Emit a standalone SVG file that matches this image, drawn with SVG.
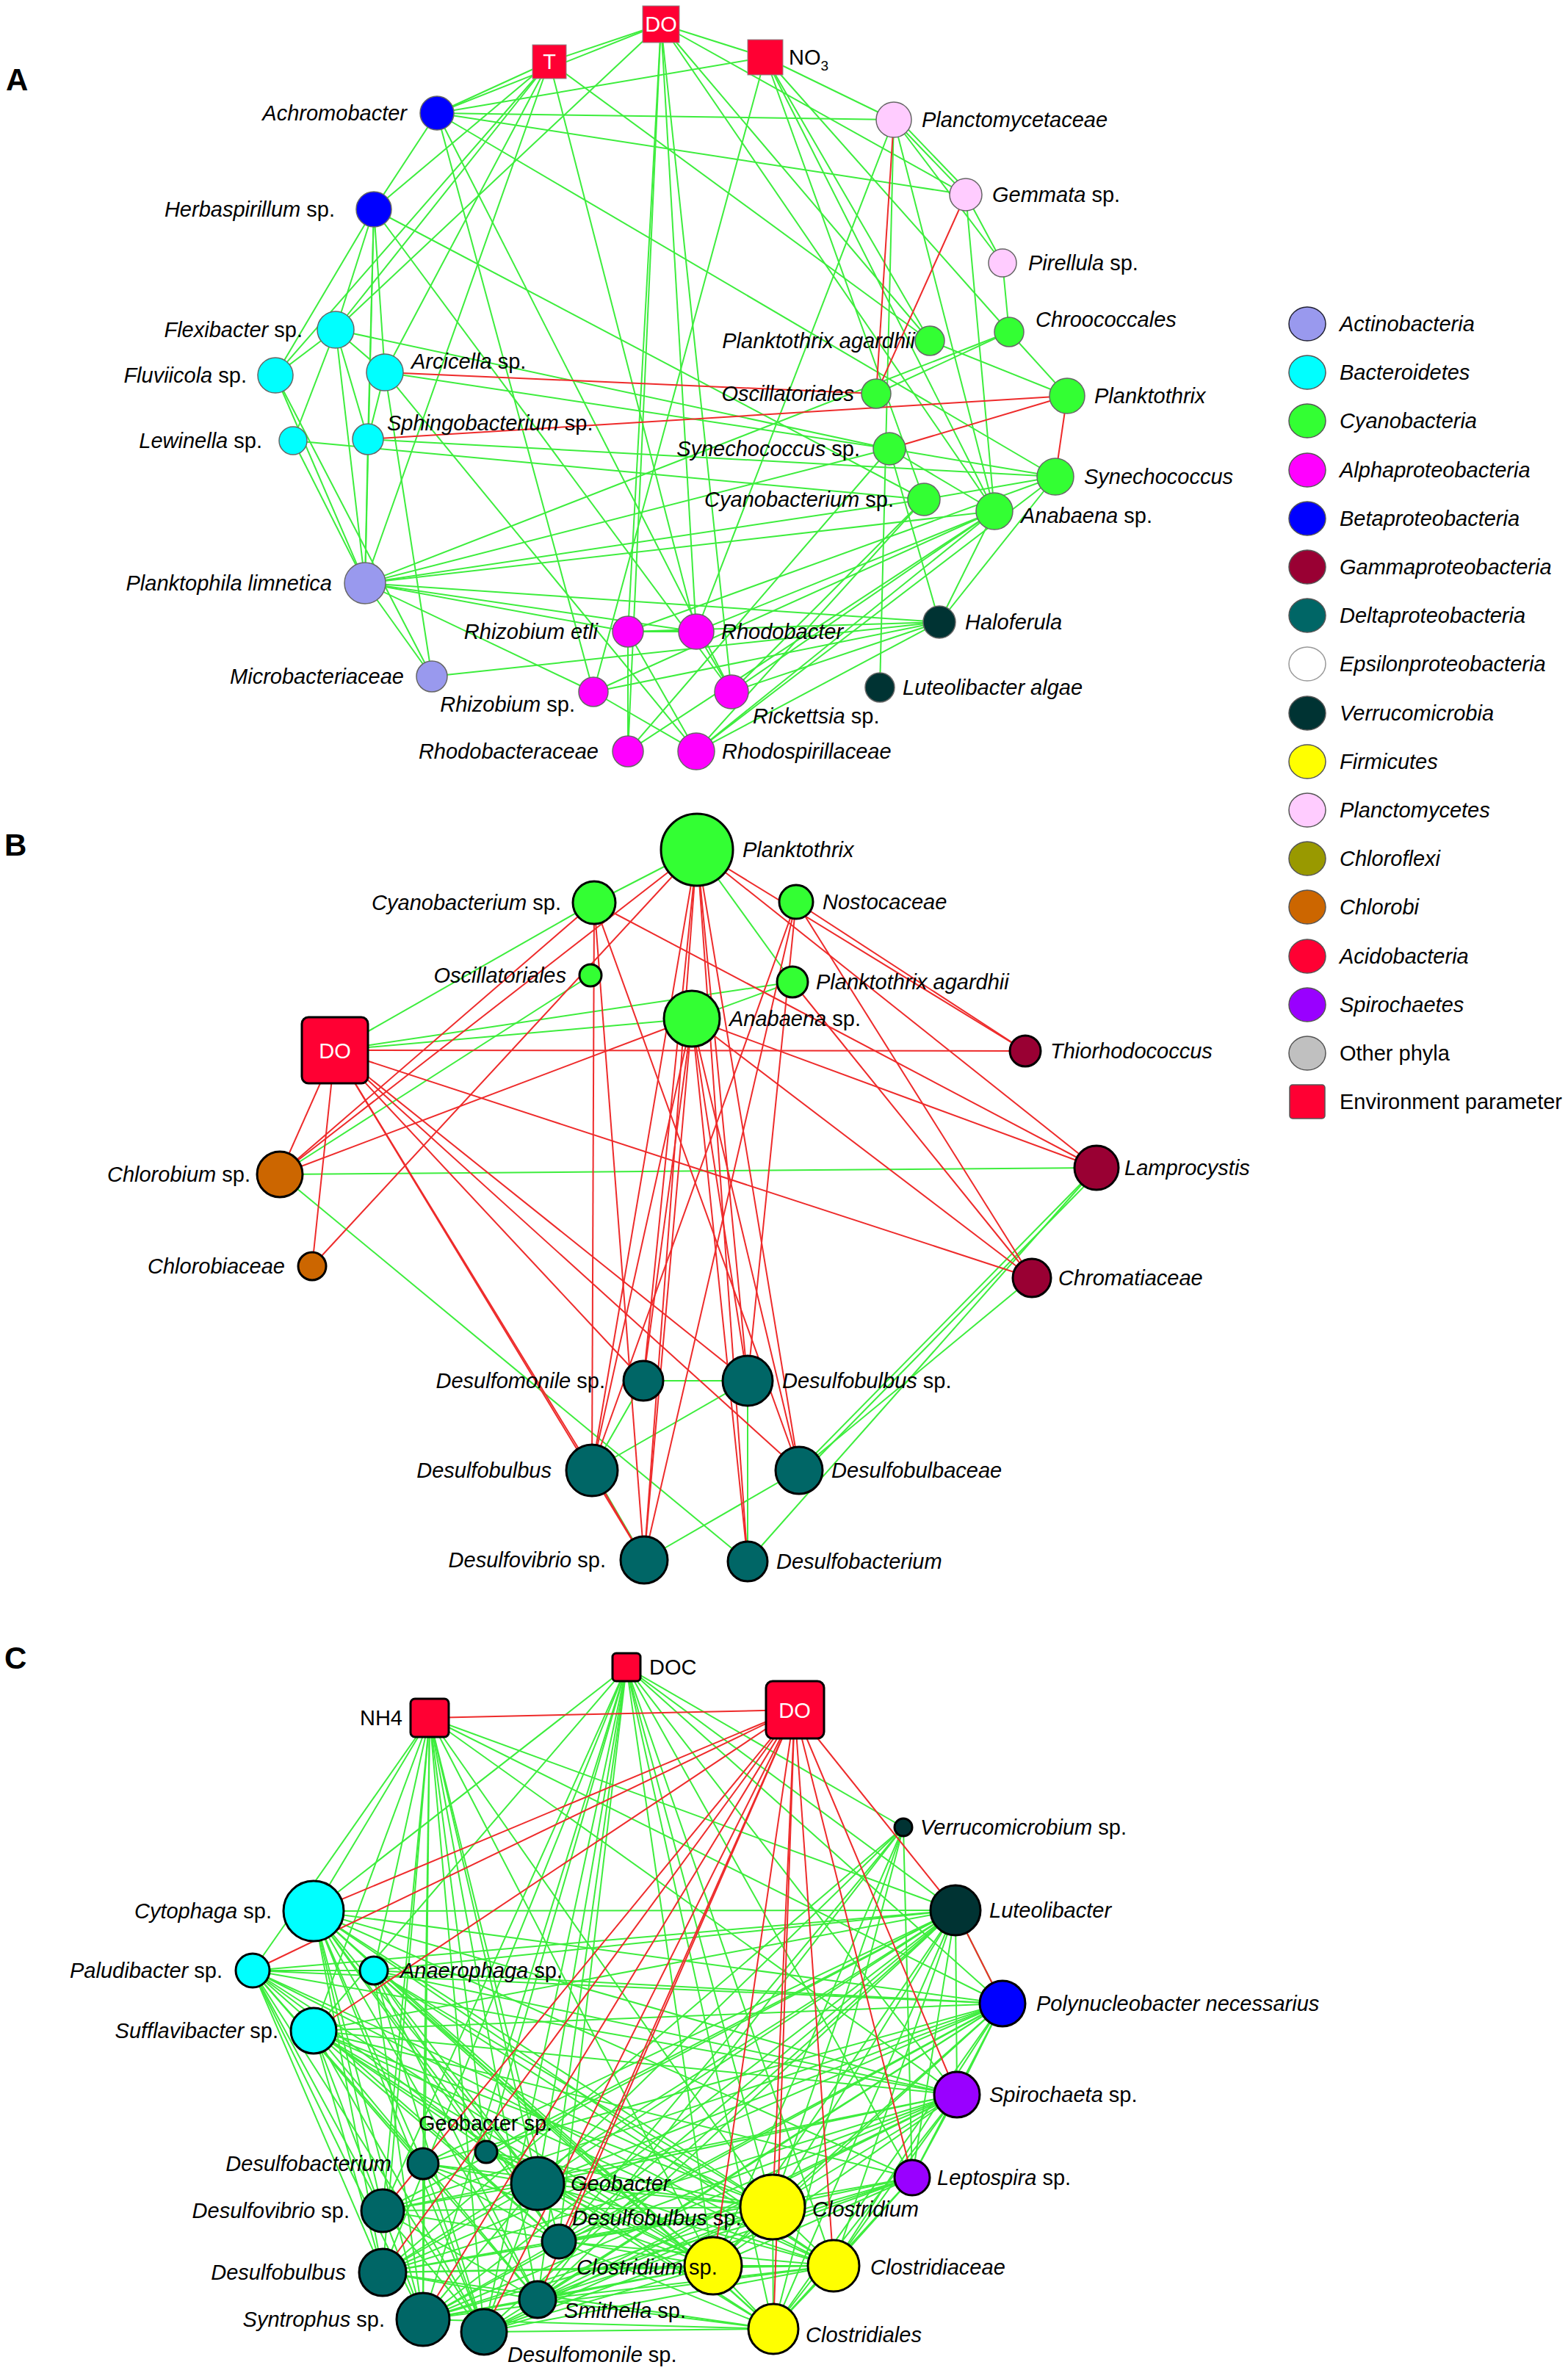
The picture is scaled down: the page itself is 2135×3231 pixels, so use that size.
<svg xmlns="http://www.w3.org/2000/svg" width="2135" height="3231" viewBox="0 0 2135 3231">
<style>
.g{stroke:#3ded3d;stroke-width:2;fill:none}
.r{stroke:#ee2b2b;stroke-width:2;fill:none}
.na circle{stroke:#666;stroke-width:1.5}
.nb circle{stroke:#000;stroke-width:3}
.envA{fill:#ff0033;stroke:#888;stroke-width:1}
.envB{fill:#ff0033;stroke:#000;stroke-width:3}
text{font-family:"Liberation Sans",Arial,sans-serif;font-size:29px;fill:#000}
.l{font-style:italic}
.n{font-style:normal}
.e{text-anchor:end}
.w{fill:#fff;text-anchor:middle}
.pl{font-weight:bold;font-size:42px}
.act{fill:#9999ee}.bac{fill:#00ffff}.cya{fill:#33ff33}.alp{fill:#ff00ff}.bet{fill:#0000ff}.gam{fill:#990033}.del{fill:#006666}.eps{fill:#ffffff}.ver{fill:#003333}.fir{fill:#ffff00}.pla{fill:#ffccff}.chf{fill:#999900}.chb{fill:#cc6600}.aci{fill:#ff0033}.spi{fill:#9900ff}.oth{fill:#c0c0c0}
</style>
<rect width="2135" height="3231" fill="#fff"/>
<text x="8" y="123" class="pl">A</text>
<text x="6" y="1165" class="pl">B</text>
<text x="6" y="2272" class="pl">C</text>

<g id="connectors">
<g id="edges-A">
<g class="g">
<line x1="748" y1="84" x2="595" y2="154"/><line x1="748" y1="84" x2="509" y2="285"/><line x1="748" y1="84" x2="457" y2="449"/><line x1="748" y1="84" x2="375" y2="511"/><line x1="748" y1="84" x2="524" y2="507"/><line x1="748" y1="84" x2="497" y2="794"/><line x1="748" y1="84" x2="948" y2="860"/><line x1="748" y1="84" x2="1266" y2="464"/><line x1="748" y1="84" x2="900" y2="33"/>
<line x1="900" y1="33" x2="1042" y2="78"/><line x1="900" y1="33" x2="595" y2="154"/><line x1="900" y1="33" x2="457" y2="449"/><line x1="900" y1="33" x2="855" y2="860"/><line x1="900" y1="33" x2="996" y2="942"/><line x1="900" y1="33" x2="855" y2="1023"/><line x1="900" y1="33" x2="948" y2="860"/><line x1="900" y1="33" x2="1266" y2="464"/><line x1="900" y1="33" x2="1315" y2="265"/><line x1="900" y1="33" x2="1354" y2="696"/>
<line x1="1042" y1="78" x2="595" y2="154"/><line x1="1042" y1="78" x2="1217" y2="163"/><line x1="1042" y1="78" x2="1266" y2="464"/><line x1="1042" y1="78" x2="1374" y2="452"/><line x1="1042" y1="78" x2="808" y2="942"/><line x1="1042" y1="78" x2="1354" y2="696"/><line x1="1042" y1="78" x2="1258" y2="680"/>
<line x1="595" y1="154" x2="1217" y2="163"/><line x1="595" y1="154" x2="1315" y2="265"/><line x1="595" y1="154" x2="509" y2="285"/><line x1="595" y1="154" x2="1437" y2="649"/><line x1="595" y1="154" x2="996" y2="942"/><line x1="595" y1="154" x2="808" y2="942"/>
<line x1="509" y1="285" x2="457" y2="449"/><line x1="509" y1="285" x2="375" y2="511"/><line x1="509" y1="285" x2="501" y2="598"/><line x1="509" y1="285" x2="524" y2="507"/><line x1="509" y1="285" x2="1258" y2="680"/><line x1="509" y1="285" x2="996" y2="942"/><line x1="509" y1="285" x2="497" y2="794"/>
<line x1="457" y1="449" x2="375" y2="511"/><line x1="457" y1="449" x2="524" y2="507"/><line x1="457" y1="449" x2="497" y2="794"/><line x1="457" y1="449" x2="501" y2="598"/><line x1="457" y1="449" x2="1211" y2="611"/>
<line x1="375" y1="511" x2="497" y2="794"/><line x1="375" y1="511" x2="588" y2="921"/>
<line x1="524" y1="507" x2="1211" y2="611"/><line x1="524" y1="507" x2="588" y2="921"/><line x1="524" y1="507" x2="948" y2="1023"/><line x1="524" y1="507" x2="501" y2="598"/>
<line x1="399" y1="600" x2="497" y2="794"/><line x1="399" y1="600" x2="1258" y2="680"/><line x1="399" y1="600" x2="457" y2="449"/>
<line x1="501" y1="598" x2="497" y2="794"/><line x1="501" y1="598" x2="1437" y2="649"/>
<line x1="497" y1="794" x2="588" y2="921"/><line x1="497" y1="794" x2="855" y2="860"/><line x1="497" y1="794" x2="808" y2="942"/><line x1="497" y1="794" x2="1279" y2="847"/><line x1="497" y1="794" x2="1258" y2="680"/><line x1="497" y1="794" x2="1211" y2="611"/><line x1="497" y1="794" x2="1354" y2="696"/><line x1="497" y1="794" x2="1374" y2="452"/><line x1="497" y1="794" x2="948" y2="860"/>
<line x1="588" y1="921" x2="1279" y2="847"/>
<line x1="855" y1="860" x2="948" y2="860"/><line x1="855" y1="860" x2="855" y2="1023"/><line x1="855" y1="860" x2="948" y2="1023"/><line x1="855" y1="860" x2="1437" y2="649"/><line x1="855" y1="860" x2="1279" y2="847"/>
<line x1="948" y1="860" x2="996" y2="942"/><line x1="948" y1="860" x2="1217" y2="163"/><line x1="948" y1="860" x2="1354" y2="696"/>
<line x1="808" y1="942" x2="948" y2="1023"/><line x1="808" y1="942" x2="1279" y2="847"/><line x1="808" y1="942" x2="1354" y2="696"/>
<line x1="996" y1="942" x2="1279" y2="847"/><line x1="996" y1="942" x2="1354" y2="696"/><line x1="996" y1="942" x2="1258" y2="680"/>
<line x1="855" y1="1023" x2="1354" y2="696"/><line x1="855" y1="1023" x2="1211" y2="611"/>
<line x1="948" y1="1023" x2="1354" y2="696"/><line x1="948" y1="1023" x2="1437" y2="649"/><line x1="948" y1="1023" x2="1258" y2="680"/><line x1="948" y1="1023" x2="1279" y2="847"/>
<line x1="1217" y1="163" x2="1315" y2="265"/><line x1="1221" y1="160" x2="1319" y2="262"/><line x1="1217" y1="163" x2="1198" y2="936"/><line x1="1217" y1="163" x2="1365" y2="358"/><line x1="1217" y1="163" x2="1354" y2="696"/>
<line x1="1315" y1="265" x2="1365" y2="358"/><line x1="1315" y1="265" x2="1354" y2="696"/>
<line x1="1365" y1="358" x2="1374" y2="452"/>
<line x1="1374" y1="452" x2="1193" y2="536"/><line x1="1374" y1="452" x2="1453" y2="539"/>
<line x1="1266" y1="464" x2="1453" y2="539"/>
<line x1="1211" y1="611" x2="1437" y2="649"/><line x1="1211" y1="611" x2="1354" y2="696"/><line x1="1211" y1="611" x2="1279" y2="847"/>
<line x1="1437" y1="649" x2="1279" y2="847"/><line x1="1258" y1="680" x2="1437" y2="649"/><line x1="1354" y1="696" x2="1279" y2="847"/>
</g>
<g class="r">
<line x1="524" y1="507" x2="1193" y2="536"/><line x1="501" y1="598" x2="1453" y2="539"/><line x1="1217" y1="163" x2="1193" y2="536"/><line x1="1315" y1="265" x2="1193" y2="536"/><line x1="1211" y1="611" x2="1453" y2="539"/><line x1="1453" y1="539" x2="1437" y2="649"/>
</g>
</g>

<g id="edges-B">
<g class="g">
<line x1="456" y1="1430" x2="809" y2="1229"/><line x1="456" y1="1430" x2="942" y2="1387"/><line x1="456" y1="1430" x2="1079" y2="1337"/>
<line x1="381" y1="1599" x2="804" y2="1328"/><line x1="381" y1="1599" x2="1493" y2="1590"/><line x1="381" y1="1599" x2="1018" y2="2126"/>
<line x1="876" y1="1880" x2="1018" y2="1880"/><line x1="806" y1="2002" x2="876" y2="1880"/><line x1="806" y1="2002" x2="1018" y2="1880"/><line x1="877" y1="2124" x2="1088" y2="2002"/><line x1="1018" y1="1880" x2="1018" y2="2126"/>
<line x1="1018" y1="2126" x2="1493" y2="1590"/><line x1="1088" y1="2002" x2="1493" y2="1590"/><line x1="1093" y1="2006" x2="1497" y2="1594"/><line x1="1088" y1="2002" x2="1405" y2="1740"/>
<line x1="949" y1="1157" x2="1079" y2="1337"/><line x1="942" y1="1387" x2="1079" y2="1337"/><line x1="949" y1="1157" x2="809" y2="1229"/><line x1="808" y1="2004" x2="879" y2="2126"/>
</g>
<g class="r">
<line x1="949" y1="1157" x2="381" y2="1599"/><line x1="809" y1="1229" x2="381" y2="1599"/><line x1="809" y1="1229" x2="1493" y2="1590"/><line x1="425" y1="1724" x2="949" y2="1157"/>
<line x1="456" y1="1430" x2="381" y2="1599"/><line x1="456" y1="1430" x2="425" y2="1724"/><line x1="456" y1="1430" x2="1396" y2="1431"/><line x1="456" y1="1430" x2="1405" y2="1740"/><line x1="456" y1="1430" x2="806" y2="2002"/><line x1="456" y1="1430" x2="877" y2="2124"/><line x1="456" y1="1430" x2="876" y2="1880"/><line x1="456" y1="1430" x2="1018" y2="1880"/><line x1="456" y1="1430" x2="1088" y2="2002"/>
<line x1="381" y1="1599" x2="942" y2="1387"/>
<line x1="949" y1="1157" x2="1396" y2="1431"/><line x1="949" y1="1157" x2="1493" y2="1590"/><line x1="1084" y1="1228" x2="1396" y2="1431"/><line x1="1079" y1="1337" x2="1405" y2="1740"/><line x1="1084" y1="1228" x2="1405" y2="1740"/><line x1="942" y1="1387" x2="1493" y2="1590"/><line x1="942" y1="1387" x2="1405" y2="1740"/>
<line x1="949" y1="1157" x2="876" y2="1880"/><line x1="949" y1="1157" x2="806" y2="2002"/><line x1="949" y1="1157" x2="877" y2="2124"/><line x1="949" y1="1157" x2="1018" y2="1880"/><line x1="949" y1="1157" x2="1088" y2="2002"/><line x1="949" y1="1157" x2="1018" y2="2126"/>
<line x1="942" y1="1387" x2="876" y2="1880"/><line x1="942" y1="1387" x2="806" y2="2002"/><line x1="942" y1="1387" x2="877" y2="2124"/><line x1="942" y1="1387" x2="1018" y2="1880"/><line x1="942" y1="1387" x2="1088" y2="2002"/><line x1="942" y1="1387" x2="1018" y2="2126"/>
<line x1="809" y1="1229" x2="806" y2="2002"/><line x1="809" y1="1229" x2="877" y2="2124"/><line x1="809" y1="1229" x2="1088" y2="2002"/>
<line x1="1084" y1="1228" x2="806" y2="2002"/><line x1="1084" y1="1228" x2="877" y2="2124"/><line x1="1084" y1="1228" x2="1018" y2="1880"/>
<line x1="806" y1="2002" x2="877" y2="2124"/>
</g>
</g>

<g id="edges-C">
<g class="g">
<line x1="585" y1="2339" x2="427" y2="2602"/><line x1="585" y1="2339" x2="344" y2="2683"/><line x1="585" y1="2339" x2="427" y2="2765"/><line x1="585" y1="2339" x2="576" y2="2946"/><line x1="585" y1="2339" x2="521" y2="3010"/><line x1="585" y1="2339" x2="521" y2="3094"/><line x1="585" y1="2339" x2="576" y2="3158"/><line x1="585" y1="2339" x2="659" y2="3175"/><line x1="585" y1="2339" x2="662" y2="2930"/><line x1="585" y1="2339" x2="732" y2="2973"/><line x1="585" y1="2339" x2="732" y2="3131"/><line x1="585" y1="2339" x2="761" y2="3052"/><line x1="585" y1="2339" x2="971" y2="3085"/><line x1="585" y1="2339" x2="1052" y2="3005"/><line x1="585" y1="2339" x2="1303" y2="2852"/><line x1="585" y1="2339" x2="1301" y2="2601"/><line x1="585" y1="2339" x2="1365" y2="2728"/><line x1="585" y1="2339" x2="509" y2="2683"/>
<line x1="853" y1="2270" x2="427" y2="2602"/><line x1="853" y1="2270" x2="427" y2="2765"/><line x1="853" y1="2270" x2="732" y2="2973"/><line x1="853" y1="2270" x2="662" y2="2930"/><line x1="853" y1="2270" x2="761" y2="3052"/><line x1="853" y1="2270" x2="732" y2="3131"/><line x1="853" y1="2270" x2="659" y2="3175"/><line x1="853" y1="2270" x2="576" y2="3158"/><line x1="853" y1="2270" x2="971" y2="3085"/><line x1="853" y1="2270" x2="1052" y2="3005"/><line x1="853" y1="2270" x2="1053" y2="3171"/><line x1="853" y1="2270" x2="1135" y2="3085"/><line x1="853" y1="2270" x2="1242" y2="2965"/><line x1="853" y1="2270" x2="1303" y2="2852"/><line x1="853" y1="2270" x2="1365" y2="2728"/><line x1="853" y1="2270" x2="1301" y2="2601"/><line x1="853" y1="2270" x2="521" y2="3094"/><line x1="853" y1="2270" x2="521" y2="3010"/><line x1="853" y1="2270" x2="1230" y2="2488"/>
<line x1="427" y1="2602" x2="1301" y2="2601"/><line x1="427" y1="2602" x2="1365" y2="2728"/><line x1="427" y1="2602" x2="1303" y2="2852"/><line x1="427" y1="2602" x2="1242" y2="2965"/><line x1="427" y1="2602" x2="1052" y2="3005"/><line x1="427" y1="2602" x2="971" y2="3085"/><line x1="427" y1="2602" x2="1135" y2="3085"/><line x1="427" y1="2602" x2="1053" y2="3171"/><line x1="427" y1="2602" x2="732" y2="2973"/><line x1="427" y1="2602" x2="662" y2="2930"/><line x1="427" y1="2602" x2="576" y2="2946"/><line x1="427" y1="2602" x2="521" y2="3010"/><line x1="427" y1="2602" x2="521" y2="3094"/><line x1="427" y1="2602" x2="576" y2="3158"/><line x1="427" y1="2602" x2="659" y2="3175"/><line x1="427" y1="2602" x2="732" y2="3131"/><line x1="427" y1="2602" x2="761" y2="3052"/>
<line x1="344" y1="2683" x2="1301" y2="2601"/><line x1="344" y1="2683" x2="1365" y2="2728"/><line x1="344" y1="2683" x2="1303" y2="2852"/><line x1="344" y1="2683" x2="1052" y2="3005"/><line x1="344" y1="2683" x2="971" y2="3085"/><line x1="344" y1="2683" x2="732" y2="2973"/><line x1="344" y1="2683" x2="576" y2="2946"/><line x1="344" y1="2683" x2="521" y2="3010"/><line x1="344" y1="2683" x2="521" y2="3094"/><line x1="344" y1="2683" x2="576" y2="3158"/><line x1="344" y1="2683" x2="659" y2="3175"/><line x1="344" y1="2683" x2="732" y2="3131"/><line x1="344" y1="2683" x2="761" y2="3052"/><line x1="344" y1="2683" x2="1135" y2="3085"/><line x1="344" y1="2683" x2="509" y2="2683"/>
<line x1="509" y1="2683" x2="1301" y2="2601"/><line x1="509" y1="2683" x2="1365" y2="2728"/><line x1="509" y1="2683" x2="1303" y2="2852"/><line x1="509" y1="2683" x2="1052" y2="3005"/><line x1="509" y1="2683" x2="971" y2="3085"/><line x1="509" y1="2683" x2="732" y2="2973"/><line x1="509" y1="2683" x2="761" y2="3052"/><line x1="509" y1="2683" x2="732" y2="3131"/><line x1="509" y1="2683" x2="659" y2="3175"/><line x1="509" y1="2683" x2="576" y2="3158"/><line x1="509" y1="2683" x2="1135" y2="3085"/><line x1="509" y1="2683" x2="1053" y2="3171"/>
<line x1="427" y1="2765" x2="1301" y2="2601"/><line x1="427" y1="2765" x2="1365" y2="2728"/><line x1="427" y1="2765" x2="1303" y2="2852"/><line x1="427" y1="2765" x2="1242" y2="2965"/><line x1="427" y1="2765" x2="1052" y2="3005"/><line x1="427" y1="2765" x2="971" y2="3085"/><line x1="427" y1="2765" x2="1135" y2="3085"/><line x1="427" y1="2765" x2="1053" y2="3171"/><line x1="427" y1="2765" x2="732" y2="2973"/><line x1="427" y1="2765" x2="761" y2="3052"/><line x1="427" y1="2765" x2="732" y2="3131"/><line x1="427" y1="2765" x2="659" y2="3175"/><line x1="427" y1="2765" x2="576" y2="3158"/><line x1="427" y1="2765" x2="521" y2="3094"/>
<line x1="1230" y1="2488" x2="732" y2="2973"/><line x1="1230" y1="2488" x2="971" y2="3085"/><line x1="1230" y1="2488" x2="1052" y2="3005"/><line x1="1230" y1="2488" x2="761" y2="3052"/><line x1="1230" y1="2488" x2="732" y2="3131"/><line x1="1230" y1="2488" x2="1242" y2="2965"/><line x1="1230" y1="2488" x2="1053" y2="3171"/><line x1="1230" y1="2488" x2="521" y2="3094"/>
<line x1="1301" y1="2601" x2="732" y2="2973"/><line x1="1301" y1="2601" x2="761" y2="3052"/><line x1="1301" y1="2601" x2="971" y2="3085"/><line x1="1301" y1="2601" x2="1052" y2="3005"/><line x1="1301" y1="2601" x2="1135" y2="3085"/><line x1="1301" y1="2601" x2="1053" y2="3171"/><line x1="1301" y1="2601" x2="732" y2="3131"/><line x1="1301" y1="2601" x2="659" y2="3175"/><line x1="1301" y1="2601" x2="576" y2="3158"/><line x1="1301" y1="2601" x2="521" y2="3094"/><line x1="1301" y1="2601" x2="521" y2="3010"/><line x1="1301" y1="2601" x2="576" y2="2946"/><line x1="1301" y1="2601" x2="662" y2="2930"/><line x1="1301" y1="2601" x2="1303" y2="2852"/><line x1="1301" y1="2601" x2="1242" y2="2965"/><line x1="1301" y1="2601" x2="1365" y2="2728"/>
<line x1="1365" y1="2728" x2="732" y2="2973"/><line x1="1365" y1="2728" x2="761" y2="3052"/><line x1="1365" y1="2728" x2="971" y2="3085"/><line x1="1365" y1="2728" x2="1052" y2="3005"/><line x1="1365" y1="2728" x2="1135" y2="3085"/><line x1="1365" y1="2728" x2="1053" y2="3171"/><line x1="1365" y1="2728" x2="732" y2="3131"/><line x1="1365" y1="2728" x2="659" y2="3175"/><line x1="1365" y1="2728" x2="576" y2="3158"/><line x1="1365" y1="2728" x2="521" y2="3094"/><line x1="1365" y1="2728" x2="521" y2="3010"/><line x1="1365" y1="2728" x2="576" y2="2946"/><line x1="1365" y1="2728" x2="1303" y2="2852"/><line x1="1365" y1="2728" x2="1242" y2="2965"/>
<line x1="1303" y1="2852" x2="732" y2="2973"/><line x1="1303" y1="2852" x2="761" y2="3052"/><line x1="1303" y1="2852" x2="971" y2="3085"/><line x1="1303" y1="2852" x2="1052" y2="3005"/><line x1="1303" y1="2852" x2="1135" y2="3085"/><line x1="1303" y1="2852" x2="1053" y2="3171"/><line x1="1303" y1="2852" x2="732" y2="3131"/><line x1="1303" y1="2852" x2="659" y2="3175"/><line x1="1303" y1="2852" x2="576" y2="3158"/><line x1="1303" y1="2852" x2="521" y2="3094"/><line x1="1303" y1="2852" x2="521" y2="3010"/><line x1="1303" y1="2852" x2="1242" y2="2965"/>
<line x1="1242" y1="2965" x2="971" y2="3085"/><line x1="1242" y1="2965" x2="1052" y2="3005"/><line x1="1242" y1="2965" x2="1135" y2="3085"/><line x1="1242" y1="2965" x2="1053" y2="3171"/><line x1="1242" y1="2965" x2="732" y2="3131"/><line x1="1242" y1="2965" x2="659" y2="3175"/><line x1="1242" y1="2965" x2="576" y2="3158"/><line x1="1242" y1="2965" x2="521" y2="3094"/>
<line x1="576" y1="2946" x2="732" y2="2973"/><line x1="576" y1="2946" x2="761" y2="3052"/><line x1="576" y1="2946" x2="576" y2="3158"/><line x1="576" y1="2946" x2="659" y2="3175"/><line x1="576" y1="2946" x2="1052" y2="3005"/><line x1="576" y1="2946" x2="971" y2="3085"/>
<line x1="521" y1="3010" x2="732" y2="2973"/><line x1="521" y1="3010" x2="732" y2="3131"/><line x1="521" y1="3010" x2="659" y2="3175"/><line x1="521" y1="3010" x2="971" y2="3085"/><line x1="521" y1="3010" x2="1052" y2="3005"/>
<line x1="521" y1="3094" x2="732" y2="2973"/><line x1="521" y1="3094" x2="732" y2="3131"/><line x1="521" y1="3094" x2="971" y2="3085"/><line x1="521" y1="3094" x2="1052" y2="3005"/><line x1="521" y1="3094" x2="1053" y2="3171"/><line x1="521" y1="3094" x2="1135" y2="3085"/>
<line x1="576" y1="3158" x2="732" y2="3131"/><line x1="576" y1="3158" x2="971" y2="3085"/><line x1="576" y1="3158" x2="1052" y2="3005"/><line x1="576" y1="3158" x2="1053" y2="3171"/><line x1="576" y1="3158" x2="1135" y2="3085"/><line x1="576" y1="3158" x2="761" y2="3052"/><line x1="576" y1="3158" x2="732" y2="2973"/>
<line x1="659" y1="3175" x2="971" y2="3085"/><line x1="659" y1="3175" x2="1052" y2="3005"/><line x1="659" y1="3175" x2="1053" y2="3171"/><line x1="659" y1="3175" x2="1135" y2="3085"/><line x1="659" y1="3175" x2="732" y2="2973"/>
<line x1="732" y1="2973" x2="971" y2="3085"/><line x1="732" y1="2973" x2="1052" y2="3005"/><line x1="732" y1="2973" x2="1135" y2="3085"/><line x1="732" y1="2973" x2="1053" y2="3171"/>
<line x1="732" y1="3131" x2="971" y2="3085"/><line x1="732" y1="3131" x2="1052" y2="3005"/><line x1="732" y1="3131" x2="1135" y2="3085"/><line x1="732" y1="3131" x2="1053" y2="3171"/>
<line x1="761" y1="3052" x2="1052" y2="3005"/><line x1="761" y1="3052" x2="1135" y2="3085"/><line x1="761" y1="3052" x2="1053" y2="3171"/>
<line x1="971" y1="3085" x2="1052" y2="3005"/><line x1="971" y1="3085" x2="1135" y2="3085"/><line x1="971" y1="3085" x2="1053" y2="3171"/><line x1="1052" y1="3005" x2="1135" y2="3085"/><line x1="1052" y1="3005" x2="1053" y2="3171"/><line x1="1135" y1="3085" x2="1053" y2="3171"/>
<line x1="662" y1="2930" x2="1052" y2="3005"/><line x1="662" y1="2930" x2="971" y2="3085"/><line x1="662" y1="2930" x2="1135" y2="3085"/>
</g>
<g class="r">
<line x1="585" y1="2339" x2="1082" y2="2328"/>
<line x1="1082" y1="2328" x2="427" y2="2602"/><line x1="1082" y1="2328" x2="344" y2="2683"/><line x1="1082" y1="2328" x2="427" y2="2765"/><line x1="1082" y1="2328" x2="521" y2="3010"/><line x1="1082" y1="2328" x2="521" y2="3094"/><line x1="1082" y1="2328" x2="576" y2="3158"/><line x1="1082" y1="2328" x2="659" y2="3175"/><line x1="1082" y1="2328" x2="732" y2="3131"/><line x1="1082" y1="2328" x2="761" y2="3052"/><line x1="1082" y1="2328" x2="971" y2="3085"/><line x1="1082" y1="2328" x2="1052" y2="3005"/><line x1="1082" y1="2328" x2="1053" y2="3171"/><line x1="1082" y1="2328" x2="1135" y2="3085"/><line x1="1082" y1="2328" x2="1242" y2="2965"/><line x1="1082" y1="2328" x2="1303" y2="2852"/><line x1="1082" y1="2328" x2="1301" y2="2601"/>
<line x1="1301" y1="2601" x2="1365" y2="2728"/>
</g>
</g>
</g>

<g id="nodes-A" class="na">
<g id="a-T"><rect x="725" y="61" width="46" height="46" class="envA"/><text x="748" y="94" class="w">T</text></g>
<g id="a-DO"><rect x="875" y="8" width="50" height="50" class="envA"/><text x="900" y="43" class="w">DO</text></g>
<g id="a-NO3"><rect x="1018" y="54" width="48" height="48" class="envA"/><text x="1074" y="88">NO<tspan font-size="19" dy="8">3</tspan></text></g>
<g id="a-achromobacter"><circle cx="595" cy="154" r="23" class="bet"/><text x="554" y="164" class="l e">Achromobacter</text></g>
<g id="a-herbaspirillum"><circle cx="509" cy="285" r="24" class="bet"/><text x="456" y="295" class="l e">Herbaspirillum<tspan class="n"> sp.</tspan></text></g>
<g id="a-flexibacter"><circle cx="457" cy="449" r="25" class="bac"/><text x="412" y="459" class="l e">Flexibacter<tspan class="n"> sp.</tspan></text></g>
<g id="a-fluviicola"><circle cx="375" cy="511" r="24" class="bac"/><text x="336" y="521" class="l e">Fluviicola<tspan class="n"> sp.</tspan></text></g>
<g id="a-arcicella"><circle cx="524" cy="507" r="25" class="bac"/><text x="560" y="502" class="l">Arcicella<tspan class="n"> sp.</tspan></text></g>
<g id="a-lewinella"><circle cx="399" cy="600" r="19" class="bac"/><text x="357" y="610" class="l e">Lewinella<tspan class="n"> sp.</tspan></text></g>
<g id="a-sphingobacterium"><circle cx="501" cy="598" r="21" class="bac"/><text x="527" y="586" class="l">Sphingobacterium<tspan class="n"> sp.</tspan></text></g>
<g id="a-planktophila"><circle cx="497" cy="794" r="28" class="act"/><text x="452" y="804" class="l e">Planktophila limnetica</text></g>
<g id="a-microbacteriaceae"><circle cx="588" cy="921" r="21" class="act"/><text x="550" y="931" class="l e">Microbacteriaceae</text></g>
<g id="a-rhizobium-etli"><circle cx="855" cy="860" r="21" class="alp"/><text x="814" y="870" class="l e">Rhizobium etli</text></g>
<g id="a-rhodobacter"><circle cx="948" cy="860" r="24" class="alp"/><text x="982" y="870" class="l">Rhodobacter</text></g>
<g id="a-rhizobium-sp"><circle cx="808" cy="942" r="20" class="alp"/><text x="783" y="969" class="l e">Rhizobium<tspan class="n"> sp.</tspan></text></g>
<g id="a-rickettsia"><circle cx="996" cy="942" r="23" class="alp"/><text x="1025" y="985" class="l">Rickettsia<tspan class="n"> sp.</tspan></text></g>
<g id="a-rhodobacteraceae"><circle cx="855" cy="1023" r="21" class="alp"/><text x="815" y="1033" class="l e">Rhodobacteraceae</text></g>
<g id="a-rhodospirillaceae"><circle cx="948" cy="1023" r="25" class="alp"/><text x="983" y="1033" class="l">Rhodospirillaceae</text></g>
<g id="a-planctomycetaceae"><circle cx="1217" cy="163" r="24" class="pla"/><text x="1255" y="173" class="l">Planctomycetaceae</text></g>
<g id="a-gemmata"><circle cx="1315" cy="265" r="22" class="pla"/><text x="1351" y="275" class="l">Gemmata<tspan class="n"> sp.</tspan></text></g>
<g id="a-pirellula"><circle cx="1365" cy="358" r="19" class="pla"/><text x="1400" y="368" class="l">Pirellula<tspan class="n"> sp.</tspan></text></g>
<g id="a-chroococcales"><circle cx="1374" cy="452" r="20" class="cya"/><text x="1410" y="445" class="l">Chroococcales</text></g>
<g id="a-planktothrix-agardhii"><circle cx="1266" cy="464" r="20" class="cya"/><text x="1246" y="474" class="l e">Planktothrix agardhii</text></g>
<g id="a-oscillatoriales"><circle cx="1193" cy="536" r="20" class="cya"/><text x="1163" y="546" class="l e">Oscillatoriales</text></g>
<g id="a-planktothrix"><circle cx="1453" cy="539" r="24" class="cya"/><text x="1490" y="549" class="l">Planktothrix</text></g>
<g id="a-synechococcus-sp"><circle cx="1211" cy="611" r="22" class="cya"/><text x="1171" y="621" class="l e">Synechococcus<tspan class="n"> sp.</tspan></text></g>
<g id="a-synechococcus"><circle cx="1437" cy="649" r="25" class="cya"/><text x="1476" y="659" class="l">Synechococcus</text></g>
<g id="a-cyanobacterium"><circle cx="1258" cy="680" r="22" class="cya"/><text x="1217" y="690" class="l e">Cyanobacterium<tspan class="n"> sp.</tspan></text></g>
<g id="a-anabaena"><circle cx="1354" cy="696" r="25" class="cya"/><text x="1390" y="712" class="l">Anabaena<tspan class="n"> sp.</tspan></text></g>
<g id="a-haloferula"><circle cx="1279" cy="847" r="22" class="ver"/><text x="1314" y="857" class="l">Haloferula</text></g>
<g id="a-luteolibacter-algae"><circle cx="1198" cy="936" r="20" class="ver"/><text x="1229" y="946" class="l">Luteolibacter algae</text></g>
</g>

<g id="nodes-B" class="nb">
<g id="b-planktothrix"><circle cx="949" cy="1157" r="49" class="cya"/><text x="1011" y="1167" class="l">Planktothrix</text></g>
<g id="b-nostocaceae"><circle cx="1084" cy="1228" r="23" class="cya"/><text x="1120" y="1238" class="l">Nostocaceae</text></g>
<g id="b-planktothrix-agardhii"><circle cx="1079" cy="1337" r="21" class="cya"/><text x="1111" y="1347" class="l">Planktothrix agardhii</text></g>
<g id="b-anabaena"><circle cx="942" cy="1387" r="38" class="cya"/><text x="993" y="1397" class="l">Anabaena<tspan class="n"> sp.</tspan></text></g>
<g id="b-cyanobacterium"><circle cx="809" cy="1229" r="29" class="cya"/><text x="764" y="1239" class="l e">Cyanobacterium<tspan class="n"> sp.</tspan></text></g>
<g id="b-oscillatoriales"><circle cx="804" cy="1328" r="15" class="cya"/><text x="771" y="1338" class="l e">Oscillatoriales</text></g>
<g id="b-DO"><rect x="411" y="1385" width="90" height="90" rx="9" class="envB"/><text x="456" y="1441" class="w">DO</text></g>
<g id="b-thiorhodococcus"><circle cx="1396" cy="1431" r="21" class="gam"/><text x="1430" y="1441" class="l">Thiorhodococcus</text></g>
<g id="b-lamprocystis"><circle cx="1493" cy="1590" r="30" class="gam"/><text x="1531" y="1600" class="l">Lamprocystis</text></g>
<g id="b-chromatiaceae"><circle cx="1405" cy="1740" r="26" class="gam"/><text x="1441" y="1750" class="l">Chromatiaceae</text></g>
<g id="b-chlorobium"><circle cx="381" cy="1599" r="31" class="chb"/><text x="341" y="1609" class="l e">Chlorobium<tspan class="n"> sp.</tspan></text></g>
<g id="b-chlorobiaceae"><circle cx="425" cy="1724" r="19" class="chb"/><text x="388" y="1734" class="l e">Chlorobiaceae</text></g>
<g id="b-desulfomonile"><circle cx="876" cy="1880" r="27" class="del"/><text x="824" y="1890" class="l e">Desulfomonile<tspan class="n"> sp.</tspan></text></g>
<g id="b-desulfobulbus-sp"><circle cx="1018" cy="1880" r="34" class="del"/><text x="1065" y="1890" class="l">Desulfobulbus<tspan class="n"> sp.</tspan></text></g>
<g id="b-desulfobulbus"><circle cx="806" cy="2002" r="35" class="del"/><text x="751" y="2012" class="l e">Desulfobulbus</text></g>
<g id="b-desulfobulbaceae"><circle cx="1088" cy="2002" r="32" class="del"/><text x="1132" y="2012" class="l">Desulfobulbaceae</text></g>
<g id="b-desulfovibrio"><circle cx="877" cy="2124" r="32" class="del"/><text x="825" y="2134" class="l e">Desulfovibrio<tspan class="n"> sp.</tspan></text></g>
<g id="b-desulfobacterium"><circle cx="1018" cy="2126" r="27" class="del"/><text x="1057" y="2136" class="l">Desulfobacterium</text></g>
</g>

<g id="nodes-C" class="nb">
<g id="c-NH4"><rect x="559" y="2313" width="52" height="52" rx="6" class="envB"/><text x="548" y="2349" class="e">NH4</text></g>
<g id="c-DOC"><rect x="834" y="2251" width="38" height="38" rx="5" class="envB"/><text x="884" y="2280">DOC</text></g>
<g id="c-DO"><rect x="1043" y="2289" width="79" height="78" rx="9" class="envB"/><text x="1082" y="2339" class="w">DO</text></g>
<g id="c-cytophaga"><circle cx="427" cy="2602" r="41" class="bac"/><text x="370" y="2612" class="l e">Cytophaga<tspan class="n"> sp.</tspan></text></g>
<g id="c-paludibacter"><circle cx="344" cy="2683" r="23" class="bac"/><text x="303" y="2693" class="l e">Paludibacter<tspan class="n"> sp.</tspan></text></g>
<g id="c-anaerophaga"><circle cx="509" cy="2683" r="19" class="bac"/><text x="545" y="2693" class="l">Anaerophaga<tspan class="n"> sp.</tspan></text></g>
<g id="c-sufflavibacter"><circle cx="427" cy="2765" r="31" class="bac"/><text x="379" y="2775" class="l e">Sufflavibacter<tspan class="n"> sp.</tspan></text></g>
<g id="c-geobacter-sp"><circle cx="662" cy="2930" r="15" class="del"/><text x="570" y="2901">Geobacter sp.</text></g>
<g id="c-desulfobacterium"><circle cx="576" cy="2946" r="21" class="del"/><text x="533" y="2956" class="l e">Desulfobacterium</text></g>
<g id="c-geobacter"><circle cx="732" cy="2973" r="36" class="del"/><text x="777" y="2983" class="l">Geobacter</text></g>
<g id="c-desulfovibrio"><circle cx="521" cy="3010" r="29" class="del"/><text x="476" y="3020" class="l e">Desulfovibrio<tspan class="n"> sp.</tspan></text></g>
<g id="c-desulfobulbus-sp"><circle cx="761" cy="3052" r="23" class="del"/><text x="779" y="3030" class="l">Desulfobulbus<tspan class="n"> sp.</tspan></text></g>
<g id="c-desulfobulbus"><circle cx="521" cy="3094" r="32" class="del"/><text x="471" y="3104" class="l e">Desulfobulbus</text></g>
<g id="c-smithella"><circle cx="732" cy="3131" r="25" class="del"/><text x="768" y="3156" class="l">Smithella<tspan class="n"> sp.</tspan></text></g>
<g id="c-syntrophus"><circle cx="576" cy="3158" r="36" class="del"/><text x="524" y="3168" class="l e">Syntrophus<tspan class="n"> sp.</tspan></text></g>
<g id="c-desulfomonile"><circle cx="659" cy="3175" r="31" class="del"/><text x="691" y="3216" class="l">Desulfomonile<tspan class="n"> sp.</tspan></text></g>
<g id="c-clostridium-sp"><circle cx="971" cy="3085" r="39" class="fir"/><text x="785" y="3097" class="l">Clostridium<tspan class="n"> sp.</tspan></text></g>
<g id="c-clostridium"><circle cx="1052" cy="3005" r="44" class="fir"/><text x="1106" y="3018" class="l">Clostridium</text></g>
<g id="c-clostridiaceae"><circle cx="1135" cy="3085" r="35" class="fir"/><text x="1185" y="3097" class="l">Clostridiaceae</text></g>
<g id="c-clostridiales"><circle cx="1053" cy="3171" r="34" class="fir"/><text x="1097" y="3189" class="l">Clostridiales</text></g>
<g id="c-leptospira"><circle cx="1242" cy="2965" r="24" class="spi"/><text x="1276" y="2975" class="l">Leptospira<tspan class="n"> sp.</tspan></text></g>
<g id="c-spirochaeta"><circle cx="1303" cy="2852" r="31" class="spi"/><text x="1347" y="2862" class="l">Spirochaeta<tspan class="n"> sp.</tspan></text></g>
<g id="c-polynucleobacter"><circle cx="1365" cy="2728" r="31" class="bet"/><text x="1411" y="2738" class="l">Polynucleobacter necessarius</text></g>
<g id="c-luteolibacter"><circle cx="1301" cy="2601" r="34" class="ver"/><text x="1347" y="2611" class="l">Luteolibacter</text></g>
<g id="c-verrucomicrobium"><circle cx="1230" cy="2488" r="12" class="ver"/><text x="1253" y="2498" class="l">Verrucomicrobium<tspan class="n"> sp.</tspan></text></g>
</g>

<g id="legend">
<g stroke="#555" stroke-width="1.5">
<ellipse cx="1780" cy="441" rx="25" ry="23" class="act" stroke="#223"/>
<ellipse cx="1780" cy="507" rx="25" ry="23" class="bac"/>
<ellipse cx="1780" cy="573" rx="25" ry="23" class="cya"/>
<ellipse cx="1780" cy="640" rx="25" ry="23" class="alp"/>
<ellipse cx="1780" cy="706" rx="25" ry="23" class="bet"/>
<ellipse cx="1780" cy="772" rx="25" ry="23" class="gam"/>
<ellipse cx="1780" cy="838" rx="25" ry="23" class="del"/>
<ellipse cx="1780" cy="904" rx="25" ry="23" class="eps" stroke="#999"/>
<ellipse cx="1780" cy="971" rx="25" ry="23" class="ver"/>
<ellipse cx="1780" cy="1037" rx="25" ry="23" class="fir"/>
<ellipse cx="1780" cy="1103" rx="25" ry="23" class="pla"/>
<ellipse cx="1780" cy="1169" rx="25" ry="23" class="chf"/>
<ellipse cx="1780" cy="1235" rx="25" ry="23" class="chb"/>
<ellipse cx="1780" cy="1302" rx="25" ry="23" class="aci"/>
<ellipse cx="1780" cy="1368" rx="25" ry="23" class="spi"/>
<ellipse cx="1780" cy="1434" rx="25" ry="23" class="oth"/>
<rect x="1756" y="1477" width="48" height="46" rx="4" class="aci"/>
</g>
<text x="1824" y="451" class="l">Actinobacteria</text>
<text x="1824" y="517" class="l">Bacteroidetes</text>
<text x="1824" y="583" class="l">Cyanobacteria</text>
<text x="1824" y="650" class="l">Alphaproteobacteria</text>
<text x="1824" y="716" class="l">Betaproteobacteria</text>
<text x="1824" y="782" class="l">Gammaproteobacteria</text>
<text x="1824" y="848" class="l">Deltaproteobacteria</text>
<text x="1824" y="914" class="l">Epsilonproteobacteria</text>
<text x="1824" y="981" class="l">Verrucomicrobia</text>
<text x="1824" y="1047" class="l">Firmicutes</text>
<text x="1824" y="1113" class="l">Planctomycetes</text>
<text x="1824" y="1179" class="l">Chloroflexi</text>
<text x="1824" y="1245" class="l">Chlorobi</text>
<text x="1824" y="1312" class="l">Acidobacteria</text>
<text x="1824" y="1378" class="l">Spirochaetes</text>
<text x="1824" y="1444">Other phyla</text>
<text x="1824" y="1510">Environment parameter</text>
</g>
</svg>
